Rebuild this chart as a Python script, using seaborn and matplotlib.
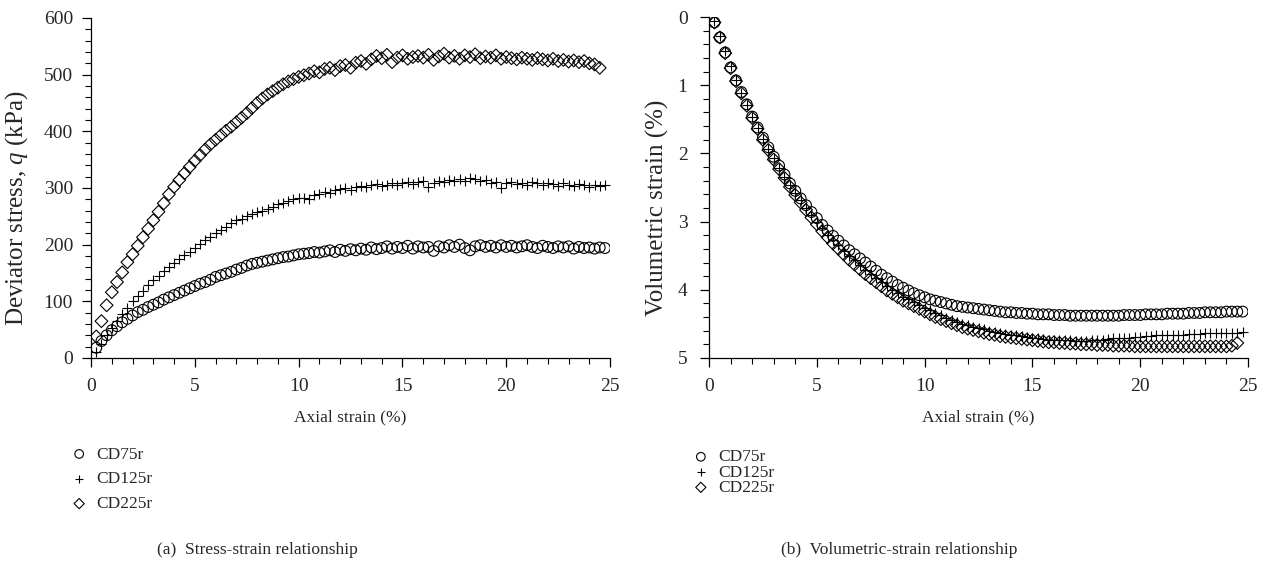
import matplotlib
matplotlib.use('Agg')
import matplotlib.pyplot as plt
from matplotlib.ticker import MultipleLocator
import seaborn as sns

# axial strain (%) of each reading
strain = [
    0.25, 0.5, 0.75, 1.0, 1.25, 1.5, 1.75, 2.0,
    2.25, 2.5, 2.75, 3.0, 3.25, 3.5, 3.75, 4.0,
    4.25, 4.5, 4.75, 5.0, 5.25, 5.5, 5.75, 6.0,
    6.25, 6.5, 6.75, 7.0, 7.25, 7.5, 7.75, 8.0,
    8.25, 8.5, 8.75, 9.0, 9.25, 9.5, 9.75, 10.0,
    10.25, 10.5, 10.75, 11.0, 11.25, 11.5, 11.75, 12.0,
    12.25, 12.5, 12.75, 13.0, 13.25, 13.5, 13.75, 14.0,
    14.25, 14.5, 14.75, 15.0, 15.25, 15.5, 15.75, 16.0,
    16.25, 16.5, 16.75, 17.0, 17.25, 17.5, 17.75, 18.0,
    18.25, 18.5, 18.75, 19.0, 19.25, 19.5, 19.75, 20.0,
    20.25, 20.5, 20.75, 21.0, 21.25, 21.5, 21.75, 22.0,
    22.25, 22.5, 22.75, 23.0, 23.25, 23.5, 23.75, 24.0,
    24.25, 24.5, 24.75,
]

labels = ['CD75r', 'CD125r', 'CD225r']
markers = ['o', '+', 'D']

# deviator stress q (kPa)
q_cd75 = [
    18, 30, 40, 49, 56, 63, 69, 75,
    81, 85, 90, 94, 98, 103, 107, 111,
    115, 119, 123, 127, 131, 134, 138, 143,
    146, 149, 152, 156, 159, 163, 166, 168,
    170, 172, 174, 176, 178, 179, 181, 183,
    184, 185, 187, 186, 188, 190, 187, 191,
    189, 192, 190, 193, 191, 195, 192, 194,
    197, 193, 196, 194, 198, 193, 197, 195,
    196, 189, 197, 195, 199, 196, 200, 194,
    190, 197, 199, 196, 198, 195, 199, 196,
    198, 195, 197, 199, 196, 194, 198, 196,
    194, 197, 195, 197, 193, 196, 194, 195,
    193, 195, 194,
]
q_cd125 = [
    10, 25, 40, 53, 65, 78, 89, 100,
    110, 119, 128, 137, 145, 153, 161, 167,
    174, 181, 187, 194, 201, 208, 214, 221,
    226, 232, 238, 243, 246, 250, 254, 257,
    260, 263, 267, 271, 274, 277, 280, 282,
    283, 281, 287, 290, 293, 292, 296, 298,
    300, 297, 302, 303, 301, 305, 307, 304,
    306, 309, 306, 308, 311, 307, 310, 312,
    301, 309, 313, 310, 314, 312, 315, 313,
    317, 315, 312, 314, 309, 311, 300, 308,
    310, 307, 309, 306, 310, 308, 305, 309,
    307, 304, 308, 306, 303, 307, 305, 302,
    306, 304, 305,
]
q_cd225 = [
    38, 65, 93, 116, 134, 151, 169, 183,
    198, 213, 228, 243, 258, 273, 289, 302,
    314, 326, 337, 348, 358, 368, 377, 385,
    393, 401, 408, 416, 424, 432, 441, 450,
    458, 465, 471, 477, 483, 488, 492, 496,
    499, 502, 506, 504, 510, 512, 508, 515,
    517, 512, 521, 524, 519, 527, 533, 529,
    535, 522, 530, 534, 528, 531, 533, 530,
    535, 526, 532, 537, 530, 533, 528, 534,
    531, 536, 529, 532, 530, 534, 528, 531,
    529, 527, 530, 528, 526, 529, 527, 525,
    528, 524, 526, 523, 525, 522, 524, 520,
    518, 512,
]

# volumetric strain (%)
ev_cd75 = [
    0.08, 0.30, 0.52, 0.74, 0.93, 1.10, 1.28, 1.46,
    1.62, 1.77, 1.91, 2.05, 2.18, 2.31, 2.44, 2.55,
    2.66, 2.76, 2.86, 2.95, 3.05, 3.13, 3.21, 3.28,
    3.35, 3.42, 3.48, 3.54, 3.60, 3.66, 3.72, 3.78,
    3.83, 3.88, 3.93, 3.97, 4.01, 4.05, 4.08, 4.11,
    4.14, 4.16, 4.18, 4.20, 4.22, 4.24, 4.25, 4.26,
    4.27, 4.28, 4.29, 4.30, 4.31, 4.32, 4.33, 4.33,
    4.34, 4.34, 4.35, 4.35, 4.36, 4.36, 4.36, 4.37,
    4.37, 4.37, 4.38, 4.38, 4.38, 4.38, 4.38, 4.38,
    4.38, 4.38, 4.38, 4.38, 4.37, 4.37, 4.37, 4.37,
    4.36, 4.36, 4.36, 4.36, 4.35, 4.35, 4.35, 4.35,
    4.34, 4.34, 4.34, 4.33, 4.33, 4.33, 4.33, 4.32,
    4.32, 4.32, 4.32,
]
ev_cd125 = [
    0.06, 0.28, 0.50, 0.72, 0.92, 1.11, 1.29, 1.47,
    1.63, 1.79, 1.93, 2.07, 2.21, 2.34, 2.47, 2.58,
    2.69, 2.80, 2.90, 3.00, 3.10, 3.19, 3.27, 3.35,
    3.43, 3.50, 3.57, 3.64, 3.71, 3.77, 3.83, 3.89,
    3.95, 4.00, 4.05, 4.10, 4.14, 4.18, 4.22, 4.26,
    4.30, 4.34, 4.37, 4.41, 4.44, 4.47, 4.50, 4.52,
    4.54, 4.56, 4.58, 4.60, 4.62, 4.63, 4.65, 4.66,
    4.67, 4.68, 4.69, 4.70, 4.71, 4.72, 4.73, 4.73,
    4.74, 4.74, 4.74, 4.75, 4.75, 4.75, 4.74, 4.74,
    4.73, 4.72, 4.71, 4.71, 4.70, 4.70, 4.69, 4.69,
    4.68, 4.68, 4.67, 4.67, 4.67, 4.66, 4.66, 4.66,
    4.65, 4.65, 4.65, 4.64, 4.64, 4.64, 4.63, 4.63,
    4.63, 4.63, 4.62,
]
ev_cd225 = [
    0.08, 0.30, 0.53, 0.75, 0.94, 1.12, 1.30, 1.48,
    1.64, 1.80, 1.95, 2.09, 2.23, 2.36, 2.49, 2.61,
    2.72, 2.83, 2.94, 3.04, 3.14, 3.23, 3.32, 3.40,
    3.48, 3.56, 3.63, 3.70, 3.77, 3.83, 3.89, 3.95,
    4.01, 4.06, 4.11, 4.16, 4.20, 4.24, 4.28, 4.32,
    4.36, 4.40, 4.43, 4.46, 4.49, 4.52, 4.55, 4.57,
    4.59, 4.61, 4.63, 4.65, 4.66, 4.68, 4.69, 4.70,
    4.71, 4.72, 4.73, 4.74, 4.75, 4.76, 4.77, 4.77,
    4.78, 4.78, 4.79, 4.79, 4.80, 4.80, 4.80, 4.81,
    4.81, 4.81, 4.82, 4.82, 4.82, 4.82, 4.83, 4.83,
    4.83, 4.83, 4.83, 4.83, 4.83, 4.83, 4.83, 4.83,
    4.83, 4.83, 4.83, 4.83, 4.83, 4.83, 4.83, 4.83,
    4.82, 4.78,
]

sns.set_style('ticks')
plt.rcParams['font.family'] = ['Liberation Serif', 'DejaVu Serif']
plt.rcParams['mathtext.fontset'] = 'custom'
plt.rcParams['mathtext.rm'] = 'Liberation Serif'
plt.rcParams['mathtext.it'] = 'Liberation Serif:italic'
plt.rcParams['font.size'] = 12

fig = plt.figure(figsize=(12.7, 5.65), dpi=100)
ax1 = fig.add_axes([0.0717, 0.3664, 0.4087, 0.6018])
ax2 = fig.add_axes([0.5583, 0.3664, 0.4244, 0.6035])


def draw(ax, series):
    for y, lab, m in zip(series, labels, markers):
        x = strain[:len(y)]
        if m == '+':
            sns.scatterplot(x=x, y=y, ax=ax, marker='+', color='black',
                            s=55, linewidth=0.8, label=lab)
        else:
            sz = 60 if m == 'o' else 42
            sns.scatterplot(x=x, y=y, ax=ax, marker=m, facecolor='none',
                            edgecolor='black', s=sz, linewidth=0.8, label=lab)


draw(ax1, [q_cd75, q_cd125, q_cd225])
draw(ax2, [ev_cd75, ev_cd125, ev_cd225])

for ax in (ax1, ax2):
    ax.set_xlim(0, 25)
    ax.xaxis.set_major_locator(MultipleLocator(5))
    ax.xaxis.set_minor_locator(MultipleLocator(1))
    ax.set_xlabel('Axial strain (%)', fontsize=12.5, labelpad=10)
    ax.tick_params(which='major', direction='out', length=6.5, width=0.9,
                   labelsize=14, color='black')
    ax.tick_params(axis='x', which='major', pad=8)
    ax.tick_params(which='minor', direction='out', length=4, width=0.8, color='black')
    for s in ['left', 'bottom']:
        ax.spines[s].set_linewidth(0.9)
        ax.spines[s].set_color('black')
    sns.despine(ax=ax)

ax1.set_ylim(0, 600)
ax1.yaxis.set_major_locator(MultipleLocator(100))
ax1.yaxis.set_minor_locator(MultipleLocator(20))
ax1.tick_params(axis='y', which='major', pad=6.5)
ax1.set_ylabel('Deviator stress, $q$ (kPa)', fontsize=18)
ax1.yaxis.set_label_coords(-0.118, 0.44)

ax2.set_ylim(5, 0)
ax2.yaxis.set_major_locator(MultipleLocator(1))
ax2.yaxis.set_minor_locator(MultipleLocator(0.2))
ax2.tick_params(axis='y', which='major', pad=9)
ax2.set_ylabel('Volumetric strain (%)', fontsize=18)
ax2.yaxis.set_label_coords(-0.074, 0.44)

ax1.legend(loc='upper left', bbox_to_anchor=(0.0555, 0.21), bbox_transform=fig.transFigure,
           frameon=False, fontsize=12.5, handletextpad=0.5, handlelength=1.0,
           labelspacing=0.5, markerscale=0.8, borderaxespad=0, borderpad=0)
ax2.legend(loc='upper left', bbox_to_anchor=(0.545, 0.205), bbox_transform=fig.transFigure,
           frameon=False, fontsize=12.5, handletextpad=0.5, handlelength=1.0,
           labelspacing=-0.05, markerscale=0.8, borderaxespad=0, borderpad=0)

fig.text(0.2024, 0.027, '(a)  Stress-strain relationship', ha='center', va='center', fontsize=12.5)
fig.text(0.708, 0.027, '(b)  Volumetric-strain relationship', ha='center', va='center', fontsize=12.5)

fig.savefig('out.png', dpi=100)
